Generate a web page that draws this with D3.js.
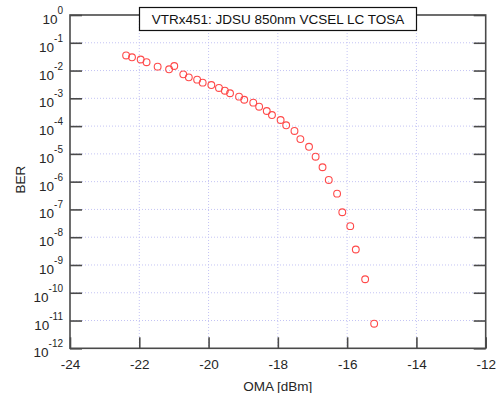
<!DOCTYPE html>
<html><head><meta charset="utf-8">
<script src="https://cdn.jsdelivr.net/npm/d3@7"></script>
<style>body{margin:0;background:#fff;} svg{display:block;}</style>
</head><body>
<svg id="chart" width="496" height="393"></svg>
<script>
const title = "VTRx451: JDSU 850nm VCSEL LC TOSA";
const xLabel = "OMA [dBm]";
const yLabel = "BER";
const xTicks = [-24, -22, -20, -18, -16, -14, -12];
const yExponents = [0, -1, -2, -3, -4, -5, -6, -7, -8, -9, -10, -11, -12];
const omaValues = [-22.38, -22.21, -21.96, -21.79, -21.47, -21.14, -20.99, -20.73, -20.57, -20.33,
  -20.17, -19.92, -19.70, -19.53, -19.38, -19.12, -18.97, -18.71, -18.54, -18.32,
  -18.17, -17.92, -17.76, -17.52, -17.35, -17.10, -16.91, -16.71, -16.53, -16.29,
  -16.14, -15.91, -15.75, -15.48, -15.22];
const berValues = [3.5e-2, 3.0e-2, 2.5e-2, 2.0e-2, 1.38e-2, 1.11e-2, 1.46e-2, 7.3e-3, 5.7e-3, 4.7e-3,
  3.66e-3, 3.0e-3, 2.36e-3, 1.88e-3, 1.52e-3, 1.15e-3, 8.9e-4, 7.0e-4, 5.0e-4, 3.5e-4,
  2.5e-4, 1.66e-4, 1.07e-4, 6.7e-5, 3.4e-5, 1.8e-5, 7.9e-6, 3.3e-6, 1.15e-6, 3.7e-7,
  7.9e-8, 2.5e-8, 3.6e-9, 3.06e-10, 7.7e-12];

const svg = d3.select("#chart");
const L = 70, R = 485.7, T = 15, B = 348.3;
const x = d3.scaleLinear().domain([-24, -12]).range([L, R]);
const y = d3.scaleLog().domain([1e-12, 1]).range([B, T]);
const font = "'Liberation Sans', Arial, sans-serif";
const axisColor = "#4a4a4a";
const textColor = "#262626";

// gridlines
const grid = svg.append("g");
grid.selectAll("line.gx").data(xTicks.slice(1, -1)).join("line")
  .attr("x1", d => x(d)).attr("x2", d => x(d)).attr("y1", T).attr("y2", B)
  .attr("stroke", "#c4c4f4").attr("stroke-width", 1).attr("stroke-dasharray", "1,2");
grid.selectAll("line.gy").data(yExponents.slice(1, -1)).join("line")
  .attr("x1", L).attr("x2", R).attr("y1", d => y(Math.pow(10, d))).attr("y2", d => y(Math.pow(10, d)))
  .attr("stroke", "#c4c4f4").attr("stroke-width", 1).attr("stroke-dasharray", "1,2");

// axes
const gx = svg.append("g").attr("transform", `translate(0,${B})`)
  .call(d3.axisBottom(x).tickValues(xTicks).tickSize(-11).tickPadding(11.5).tickFormat(d => String(d)));
gx.select(".domain").remove();
gx.selectAll("line").attr("stroke", axisColor).attr("stroke-width", 1.6);
gx.selectAll("text").attr("font-family", font).attr("font-size", 13.5).attr("fill", textColor);

const gy = svg.append("g").attr("transform", `translate(${L},0)`)
  .call(d3.axisLeft(y).tickValues(yExponents.map(e => Math.pow(10, e))).tickSize(-12).tickFormat(() => ""));
gy.select(".domain").remove();
gy.selectAll("line").attr("stroke", axisColor).attr("stroke-width", 1.6);
gy.selectAll(".tick").each(function(d) {
  const e = Math.round(Math.log10(d));
  const t = d3.select(this).append("text").attr("font-family", font).attr("fill", textColor)
    .attr("text-anchor", "end").attr("x", -7);
  t.append("tspan").attr("y", 8.5).attr("font-size", 13.5).text("10");
  t.append("tspan").attr("dy", -10).attr("font-size", 10).text(e);
});

const gr = svg.append("g").attr("transform", `translate(${R},0)`)
  .call(d3.axisRight(y).tickValues(yExponents.map(e => Math.pow(10, e))).tickSize(-12).tickFormat(() => ""));
gr.select(".domain").remove();
gr.selectAll("line").attr("stroke", axisColor).attr("stroke-width", 1.6);

// frame
svg.append("rect").attr("x", L).attr("y", T).attr("width", R - L).attr("height", B - T)
  .attr("fill", "none").attr("stroke", axisColor).attr("stroke-width", 1.6);

// points
svg.append("g").selectAll("circle").data(omaValues.map((v, i) => [v, berValues[i]])).join("circle")
  .attr("cx", d => x(d[0])).attr("cy", d => y(d[1])).attr("r", 3.4)
  .attr("fill", "none").attr("stroke", "#ff4a4a").attr("stroke-width", 1.1);

// title box
svg.append("rect").attr("x", 139.5).attr("y", 7.5).attr("width", 277).attr("height", 23)
  .attr("fill", "#fff").attr("stroke", "#111").attr("stroke-width", 1.2);
svg.append("text").attr("x", 278).attr("y", 24).attr("text-anchor", "middle")
  .attr("font-family", font).attr("font-size", 13.5).attr("fill", "#111").text(title);

// labels
svg.append("text").attr("x", (L + R) / 2).attr("y", 391).attr("text-anchor", "middle")
  .attr("font-family", font).attr("font-size", 13.5).attr("fill", textColor).text(xLabel);
svg.append("text").attr("transform", `translate(25,${(T + B) / 2 - 2}) rotate(-90)`).attr("text-anchor", "middle")
  .attr("font-family", font).attr("font-size", 13.5).attr("fill", textColor).text(yLabel);
</script>
</body></html>
